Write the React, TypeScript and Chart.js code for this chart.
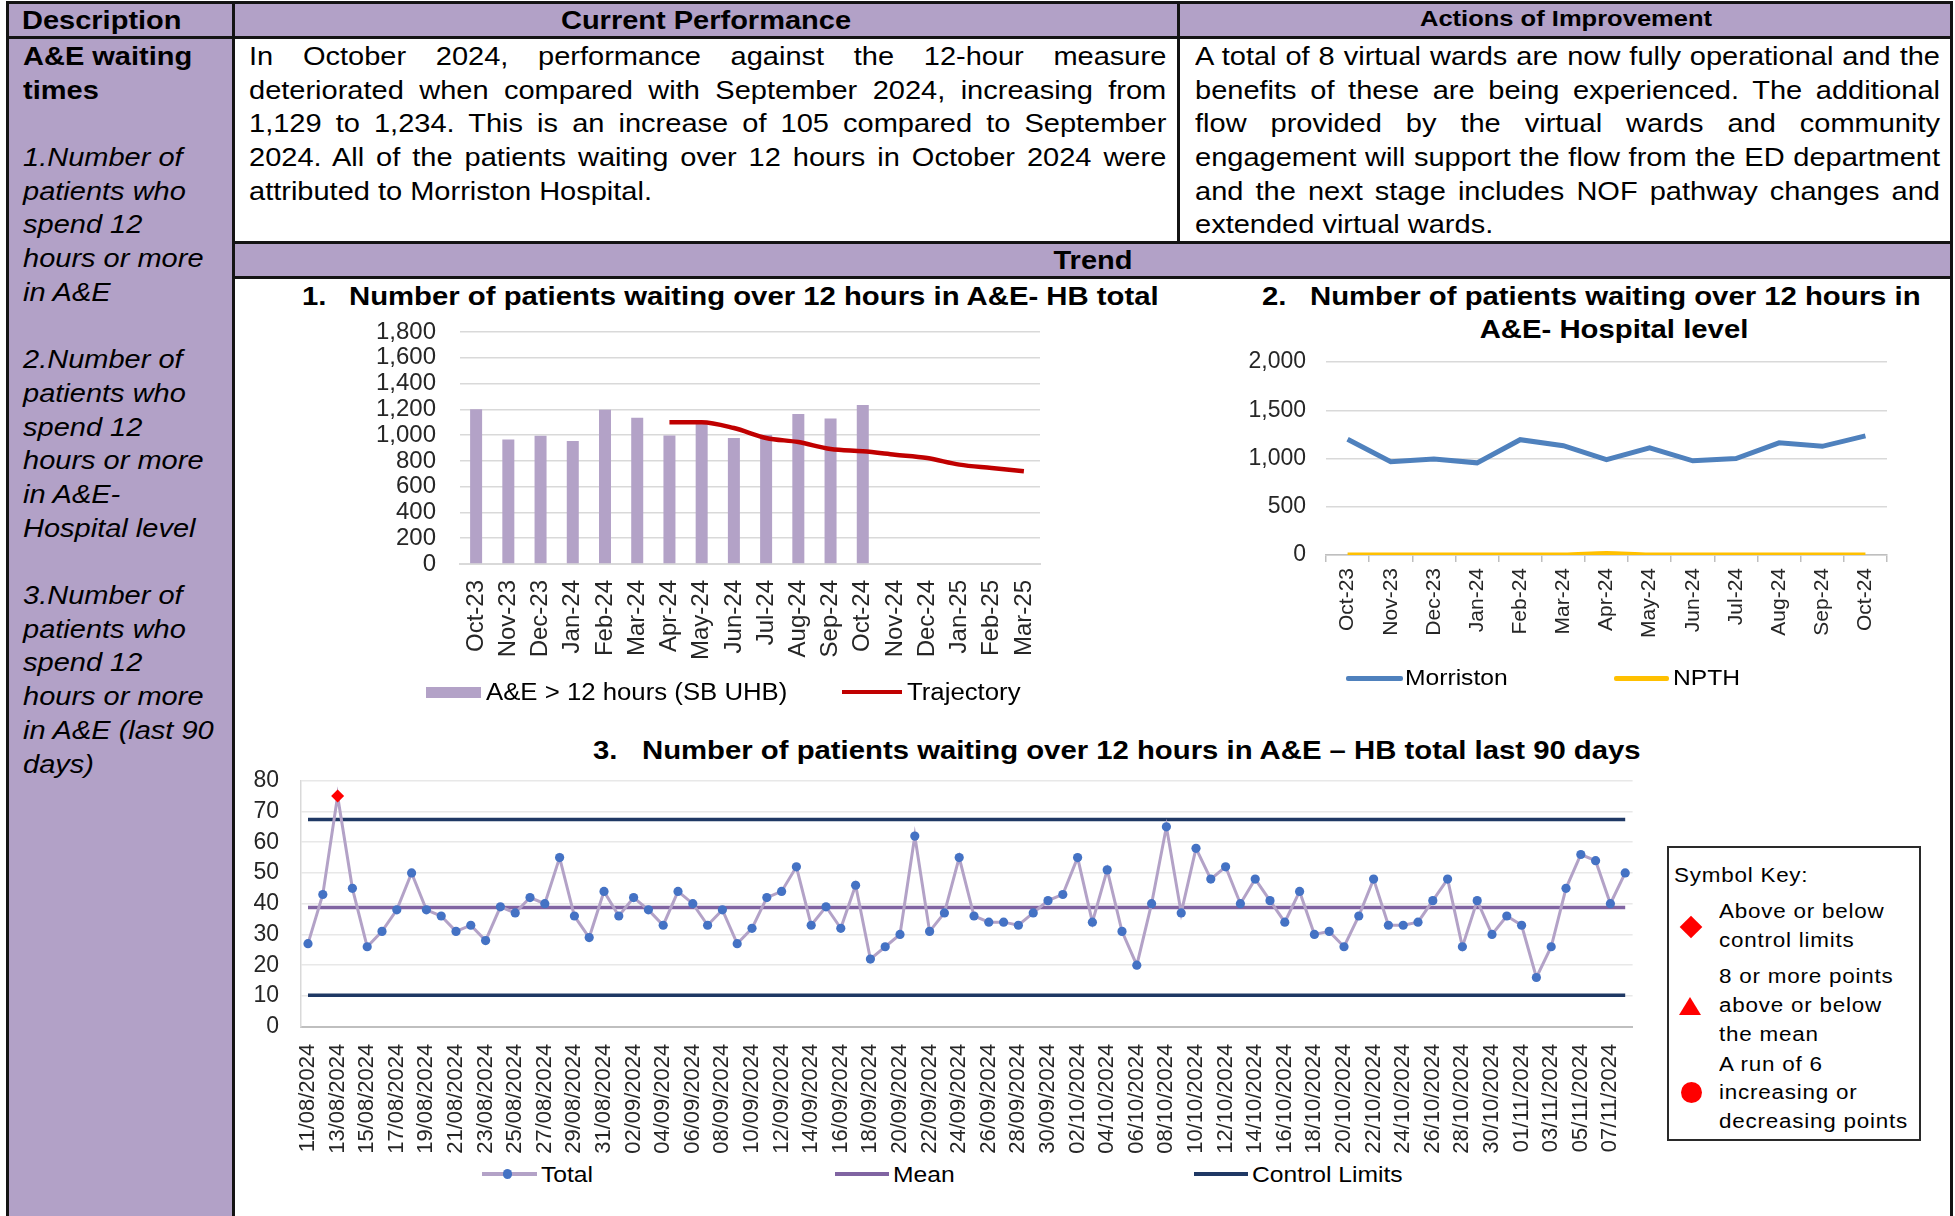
import React, { useEffect, useRef } from 'react';
import { Chart, registerables } from 'chart.js';

Chart.register(...registerables);

const FONT = "'Liberation Sans', Arial, Helvetica, sans-serif";
Chart.defaults.font.family = FONT;

// ---------- Chart 1: HB total ----------
const monthCats = ['Oct-23', 'Nov-23', 'Dec-23', 'Jan-24', 'Feb-24', 'Mar-24', 'Apr-24', 'May-24', 'Jun-24', 'Jul-24', 'Aug-24', 'Sep-24', 'Oct-24', 'Nov-24', 'Dec-24', 'Jan-25', 'Feb-25', 'Mar-25'];
const hbTotal = [1200, 966, 996, 955, 1197, 1135, 997, 1110, 978, 1000, 1163, 1129, 1234, null, null, null, null, null];
const trajectory = [null, null, null, null, null, null, 1100, 1100, 1055, 978, 946, 892, 874, 848, 822, 771, 745, 719];

// ---------- Chart 2: hospital level ----------
const hospMonths = ['Oct-23', 'Nov-23', 'Dec-23', 'Jan-24', 'Feb-24', 'Mar-24', 'Apr-24', 'May-24', 'Jun-24', 'Jul-24', 'Aug-24', 'Sep-24', 'Oct-24'];
const morriston = [1200, 966, 994, 955, 1195, 1133, 988, 1110, 976, 1000, 1162, 1126, 1234];
const npth = [0, 0, 0, 0, 0, 0, 15, 0, 0, 0, 0, 0, 0];

// ---------- Chart 3: last 90 days ----------
const dayLabels = [
  '11/08/2024', '12/08/2024', '13/08/2024', '14/08/2024', '15/08/2024', '16/08/2024', '17/08/2024', '18/08/2024', '19/08/2024', '20/08/2024',
  '21/08/2024', '22/08/2024', '23/08/2024', '24/08/2024', '25/08/2024', '26/08/2024', '27/08/2024', '28/08/2024', '29/08/2024', '30/08/2024',
  '31/08/2024', '01/09/2024', '02/09/2024', '03/09/2024', '04/09/2024', '05/09/2024', '06/09/2024', '07/09/2024', '08/09/2024', '09/09/2024',
  '10/09/2024', '11/09/2024', '12/09/2024', '13/09/2024', '14/09/2024', '15/09/2024', '16/09/2024', '17/09/2024', '18/09/2024', '19/09/2024',
  '20/09/2024', '21/09/2024', '22/09/2024', '23/09/2024', '24/09/2024', '25/09/2024', '26/09/2024', '27/09/2024', '28/09/2024', '29/09/2024',
  '30/09/2024', '01/10/2024', '02/10/2024', '03/10/2024', '04/10/2024', '05/10/2024', '06/10/2024', '07/10/2024', '08/10/2024', '09/10/2024',
  '10/10/2024', '11/10/2024', '12/10/2024', '13/10/2024', '14/10/2024', '15/10/2024', '16/10/2024', '17/10/2024', '18/10/2024', '19/10/2024',
  '20/10/2024', '21/10/2024', '22/10/2024', '23/10/2024', '24/10/2024', '25/10/2024', '26/10/2024', '27/10/2024', '28/10/2024', '29/10/2024',
  '30/10/2024', '31/10/2024', '01/11/2024', '02/11/2024', '03/11/2024', '04/11/2024', '05/11/2024', '06/11/2024', '07/11/2024', '08/11/2024',
];
const dailyTotal = [
  27, 43, 75, 45, 26, 31, 38, 50, 38, 36,
  31, 33, 28, 39, 37, 42, 40, 55, 36, 29,
  44, 36, 42, 38, 33, 44, 40, 33, 38, 27,
  32, 42, 44, 52, 33, 39, 32, 46, 22, 26,
  30, 62, 31, 37, 55, 36, 34, 34, 33, 37,
  41, 43, 55, 34, 51, 31, 20, 40, 65, 37,
  58, 48, 52, 40, 48, 41, 34, 44, 30, 31,
  26, 36, 48, 33, 33, 34, 41, 48, 26, 41,
  30, 36, 33, 16, 26, 45, 56, 54, 40, 50,
];
const meanValue = 38.8;
const upperLimit = 67.4;
const lowerLimit = 10.2;
const flaggedPoints = [2]; // above control limit

// ---------- Table text ----------
const perfLines = [
  'In October 2024, performance against the 12-hour measure',
  'deteriorated when compared with September 2024, increasing from',
  '1,129 to 1,234. This is an increase of 105 compared to September',
  '2024. All of the patients waiting over 12 hours in October 2024 were',
  'attributed to Morriston Hospital.',
];
const actionLines = [
  'A total of 8 virtual wards are now fully operational and the',
  'benefits of these are being experienced. The additional',
  'flow provided by the virtual wards and community',
  'engagement will support the flow from the ED department',
  'and the next stage includes NOF pathway changes and',
  'extended virtual wards.',
];
const descLines: [string, boolean][] = [
  ['A&E waiting', true], ['times', true], ['', false],
  ['1.Number of', false], ['patients who', false], ['spend 12', false], ['hours or more', false], ['in A&E', false], ['', false],
  ['2.Number of', false], ['patients who', false], ['spend 12', false], ['hours or more', false], ['in A&E-', false], ['Hospital level', false], ['', false],
  ['3.Number of', false], ['patients who', false], ['spend 12', false], ['hours or more', false], ['in A&E (last 90', false], ['days)', false],
];

const LAV = '#B2A1C7';
const LINE = '#141414';
const TICK = '#262626';

type TP = {
  x: number; base: number; size: number; sx?: number; w?: number;
  align?: 'left' | 'center' | 'justify'; bold?: boolean; italic?: boolean; ls?: number;
  children: React.ReactNode;
};
function T({ x, base, size, sx = 1, w, align = 'left', bold, italic, ls = 0, children }: TP) {
  const top = base - 0.8465 * size;
  const common: React.CSSProperties = {
    position: 'absolute', top, fontSize: size, lineHeight: `${size}px`, fontFamily: FONT,
    fontWeight: bold ? 700 : 400, fontStyle: italic ? 'italic' : 'normal', letterSpacing: ls,
    color: '#000', transform: `scaleX(${sx})`,
  };
  if (align === 'center') {
    return <div style={{ ...common, left: x - 700, width: 1400, textAlign: 'center', whiteSpace: 'nowrap', transformOrigin: 'center top' }}>{children}</div>;
  }
  if (align === 'justify') {
    return <div style={{ ...common, left: x, width: (w as number) / sx, textAlign: 'justify', textAlignLast: 'justify', whiteSpace: 'normal', transformOrigin: 'left top' }}>{children}</div>;
  }
  return <div style={{ ...common, left: x, whiteSpace: 'nowrap', transformOrigin: 'left top' }}>{children}</div>;
}

function Rect({ x, y, w, h, bg, style }: { x: number; y: number; w: number; h: number; bg: string; style?: React.CSSProperties }) {
  return <div style={{ position: 'absolute', left: x, top: y, width: w, height: h, background: bg, ...style }} />;
}

function ChartCanvas({ x, y, w, h, make }: { x: number; y: number; w: number; h: number; make: (c: HTMLCanvasElement) => Chart }) {
  const ref = useRef<HTMLCanvasElement>(null);
  useEffect(() => {
    const ch = make(ref.current as HTMLCanvasElement);
    return () => ch.destroy();
  }, []);
  return (
    <div style={{ position: 'absolute', left: x, top: y, width: w, height: h }}>
      <canvas ref={ref} width={w} height={h} style={{ width: w, height: h, display: 'block' }} />
    </div>
  );
}

// pin the plot area: the axes keep only their thickness, layout padding does the rest
const fixX = (h: number) => (s: any) => { s.height = h; s.paddingLeft = 0; s.paddingRight = 0; };
const fixY = (w: number) => (s: any) => { s.width = w; s.paddingTop = 0; s.paddingBottom = 0; };

function makeChart1(c: HTMLCanvasElement) {
  return new Chart(c, {
    type: 'bar',
    data: {
      labels: monthCats,
      datasets: [
        {
          type: 'bar', label: 'A&E > 12 hours (SB UHB)', data: hbTotal as any,
          backgroundColor: '#B3A2C7', categoryPercentage: 0.5, barPercentage: 0.745, order: 2,
        },
        {
          type: 'line', label: 'Trajectory', data: trajectory as any,
          borderColor: '#C00000', borderWidth: 4.5, pointRadius: 0, cubicInterpolationMode: 'monotone', order: 1,
        } as any,
      ],
    },
    options: {
      responsive: false, animation: false,
      layout: { padding: { left: 0, right: 20, top: 32, bottom: 0 } },
      plugins: { legend: { display: false }, tooltip: { enabled: false } },
      scales: {
        x: {
          grid: { display: false, drawTicks: false },
          border: { display: true, color: '#D9D9D9', width: 2 },
          ticks: { font: { size: 24 }, color: TICK, minRotation: 90, maxRotation: 90, autoSkip: false, padding: 16 },
          afterFit: fixX(116),
        },
        y: {
          min: 0, max: 1800,
          ticks: { stepSize: 200, autoSkip: false, padding: 24, font: { size: 24 }, color: TICK },
          grid: { color: '#D9D9D9', lineWidth: 1.5, drawTicks: false },
          border: { display: false },
          afterFit: fixY(220),
        },
      },
    },
  });
}

function makeChart2(c: HTMLCanvasElement) {
  return new Chart(c, {
    type: 'line',
    data: {
      labels: hospMonths,
      datasets: [
        { label: 'Morriston', data: morriston, borderColor: '#4F81BD', borderWidth: 5, pointRadius: 0, tension: 0 },
        { label: 'NPTH', data: npth, borderColor: '#FFC000', borderWidth: 5, pointRadius: 0, cubicInterpolationMode: 'monotone' },
      ],
    },
    options: {
      responsive: false, animation: false,
      layout: { padding: { left: 0, right: 53, top: 22, bottom: 0 } },
      plugins: { legend: { display: false }, tooltip: { enabled: false } },
      scales: {
        x: {
          offset: true,
          grid: { display: true, drawOnChartArea: false, drawTicks: true, tickLength: 7, offset: true, color: '#BFBFBF', lineWidth: 1.5 },
          border: { display: true, color: '#BFBFBF', width: 1.5 },
          ticks: { font: { size: 21 }, color: TICK, minRotation: 90, maxRotation: 90, autoSkip: false, padding: 6 },
          afterFit: fixX(115),
        },
        y: {
          min: 0, max: 2000,
          ticks: { stepSize: 500, autoSkip: false, padding: 20, font: { size: 23 }, color: TICK },
          grid: { color: '#D9D9D9', lineWidth: 1.5, drawTicks: false },
          border: { display: false },
          afterFit: fixY(126),
        },
      },
    },
  });
}

function makeChart3(c: HTMLCanvasElement) {
  return new Chart(c, {
    type: 'line',
    data: {
      labels: dayLabels,
      datasets: [
        {
          label: 'Total', data: dailyTotal, borderColor: '#B3A2C7', borderWidth: 3, tension: 0,
          pointRadius: dailyTotal.map((_, i) => (flaggedPoints.includes(i) ? 6.5 : 4.6)),
          pointStyle: dailyTotal.map((_, i) => (flaggedPoints.includes(i) ? 'rectRot' : 'circle')) as any,
          pointBackgroundColor: dailyTotal.map((_, i) => (flaggedPoints.includes(i) ? '#FF0000' : '#4472C4')),
          pointBorderWidth: 0,
        },
        { label: 'Mean', data: dayLabels.map(() => meanValue), borderColor: '#8064A2', borderWidth: 3.5, pointRadius: 0 },
        { label: 'Control Limits', data: dayLabels.map(() => upperLimit), borderColor: '#1F3864', borderWidth: 3.5, pointRadius: 0 },
        { label: 'Lower Control Limit', data: dayLabels.map(() => lowerLimit), borderColor: '#1F3864', borderWidth: 3.5, pointRadius: 0 },
      ],
    },
    options: {
      responsive: false, animation: false,
      layout: { padding: { left: 0, right: 17.4, top: 20.7, bottom: 0 } },
      plugins: { legend: { display: false }, tooltip: { enabled: false } },
      scales: {
        x: {
          offset: true,
          grid: { display: false, drawTicks: false },
          border: { display: true, color: '#BFBFBF', width: 2 },
          ticks: {
            font: { size: 22 }, color: TICK, minRotation: 90, maxRotation: 90, autoSkip: false, padding: 17,
            callback: (_v: any, i: number) => (i % 2 === 0 ? dayLabels[i] : ''),
          },
          afterFit: fixX(133.3),
        },
        y: {
          min: 0, max: 80,
          ticks: { stepSize: 10, autoSkip: false, padding: 21.6, font: { size: 23 }, color: TICK },
          grid: { color: '#E8E8E8', lineWidth: 1.5, drawTicks: false },
          border: { display: true, color: '#D9D9D9', width: 1.5 },
          afterFit: fixY(60.6),
        },
      },
    },
  });
}

export default function App() {
  const TS = 1.16; // table text horizontal scale
  const CS = 1.127; // chart title scale
  const LS = 1.12; // legend text scale
  const lh = 33.7;
  return (
    <div style={{ position: 'absolute', left: 0, top: 0, width: 1955, height: 1216, overflow: 'hidden', background: '#fff', fontFamily: FONT }}>
      {/* backgrounds */}
      <Rect x={6} y={1} w={1947} h={37} bg={LAV} />
      <Rect x={6} y={36} w={229} h={1180} bg={LAV} />
      <Rect x={232} y={241} w={1721} h={37} bg={LAV} />

      {/* borders */}
      <Rect x={6} y={1} w={1947} h={2.5} bg={LINE} />
      <Rect x={6} y={36} w={1947} h={2.5} bg={LINE} />
      <Rect x={232} y={241} w={1721} h={2.5} bg={LINE} />
      <Rect x={232} y={276} w={1721} h={2.5} bg={LINE} />
      <Rect x={6} y={1} w={2.5} h={1215} bg={LINE} />
      <Rect x={232} y={1} w={2.5} h={1215} bg={LINE} />
      <Rect x={1177} y={1} w={2.5} h={242} bg={LINE} />
      <Rect x={1950} y={1} w={2.5} h={1215} bg={LINE} />

      {/* headers */}
      <T x={22.4} base={29.5} size={25} sx={TS} bold>Description</T>
      <T x={706} base={29.5} size={25} sx={TS} bold align="center">Current Performance</T>
      <T x={1566} base={27} size={22} sx={TS} bold align="center">Actions of Improvement</T>
      <T x={1093} base={269.5} size={25} sx={TS} bold align="center">Trend</T>

      {/* description column */}
      {descLines.map(([t, b], i) => t ? (
        <T key={'d' + i} x={23} base={65 + i * lh} size={25} sx={TS} bold={b} italic={!b}>{t}</T>
      ) : null)}

      {/* current performance */}
      {perfLines.map((t, i) => (
        <T key={'p' + i} x={248.7} base={65 + i * lh} size={25} sx={TS} w={917.3} align={i < perfLines.length - 1 ? 'justify' : 'left'}>{t}</T>
      ))}

      {/* actions */}
      {actionLines.map((t, i) => (
        <T key={'a' + i} x={1195} base={65 + i * lh} size={25} sx={TS} w={745} align={i < actionLines.length - 1 ? 'justify' : 'left'}>{t}</T>
      ))}

      {/* chart titles */}
      <T x={301.7} base={305} size={26} sx={CS} bold>1.</T>
      <T x={348.8} base={305} size={26} sx={CS} bold>Number of patients waiting over 12 hours in A&amp;E- HB total</T>
      <T x={1262} base={305} size={26} sx={CS} bold>2.</T>
      <T x={1310} base={305} size={26} sx={CS} bold>Number of patients waiting over 12 hours in</T>
      <T x={1614} base={338} size={26} sx={CS} bold align="center">A&amp;E- Hospital level</T>
      <T x={593} base={759} size={26} sx={CS} bold>3.</T>
      <T x={642} base={759} size={26} sx={CS} bold>Number of patients waiting over 12 hours in A&amp;E – HB total last 90 days</T>

      {/* charts */}
      <ChartCanvas x={240} y={300} w={820} h={380} make={makeChart1} />
      <ChartCanvas x={1200} y={340} w={740} h={330} make={makeChart2} />
      <ChartCanvas x={240} y={760} w={1410} h={400} make={makeChart3} />

      {/* legend chart 1 */}
      <Rect x={425.7} y={686.5} w={55} h={11.5} bg="#B3A2C7" />
      <T x={485.8} base={700} size={23} sx={LS}>A&amp;E &gt; 12 hours (SB UHB)</T>
      <Rect x={841.5} y={689.5} w={60} h={4.5} bg="#C00000" />
      <T x={906.8} base={700} size={23} sx={LS}>Trajectory</T>

      {/* legend chart 2 */}
      <Rect x={1345.6} y={675.8} w={57} h={5} bg="#4F81BD" style={{ borderRadius: 2 }} />
      <T x={1405} base={686} size={22} sx={LS}>Morriston</T>
      <Rect x={1614} y={675.8} w={55} h={5} bg="#FFC000" style={{ borderRadius: 2 }} />
      <T x={1673} base={686} size={22} sx={LS}>NPTH</T>

      {/* legend chart 3 */}
      <Rect x={481.8} y={1172.2} w={55} h={3.5} bg="#B3A2C7" />
      <Rect x={503.2} y={1169.4} w={9.2} h={9.2} bg="#4472C4" style={{ borderRadius: '50%' }} />
      <T x={540.7} base={1182.7} size={22} sx={LS}>Total</T>
      <Rect x={835.3} y={1172} w={53.5} h={4} bg="#8064A2" />
      <T x={892.6} base={1182.7} size={22} sx={LS}>Mean</T>
      <Rect x={1194} y={1172.2} w={54} h={3.5} bg="#1F3864" />
      <T x={1252} base={1182.7} size={22} sx={LS}>Control Limits</T>

      {/* symbol key */}
      <div style={{ position: 'absolute', left: 1667, top: 846, width: 254, height: 295, border: '2px solid #2a2a2a', boxSizing: 'border-box' }} />
      <T x={1674} base={882} size={20} sx={LS} ls={0.7}>Symbol Key:</T>
      <Rect x={1683} y={919} w={16} h={16} bg="#FF0000" style={{ transform: 'rotate(45deg)' }} />
      <T x={1719.3} base={918.3} size={20} sx={LS} ls={0.7}>Above or below</T>
      <T x={1719.3} base={946.7} size={20} sx={LS} ls={0.7}>control limits</T>
      <div style={{ position: 'absolute', left: 1679.3, top: 996.7, width: 0, height: 0, borderLeft: '11.7px solid transparent', borderRight: '11.7px solid transparent', borderBottom: '18.3px solid #FF0000' }} />
      <T x={1719.3} base={983.3} size={20} sx={LS} ls={0.7}>8 or more points</T>
      <T x={1719.3} base={1011.7} size={20} sx={LS} ls={0.7}>above or below</T>
      <T x={1719.3} base={1040.7} size={20} sx={LS} ls={0.7}>the mean</T>
      <Rect x={1680.7} y={1081.7} w={21} h={21} bg="#FF0000" style={{ borderRadius: '50%' }} />
      <T x={1719.3} base={1070.7} size={20} sx={LS} ls={0.7}>A run of 6</T>
      <T x={1719.3} base={1099.3} size={20} sx={LS} ls={0.7}>increasing or</T>
      <T x={1719.3} base={1128.3} size={20} sx={LS} ls={0.7}>decreasing points</T>
    </div>
  );
}
